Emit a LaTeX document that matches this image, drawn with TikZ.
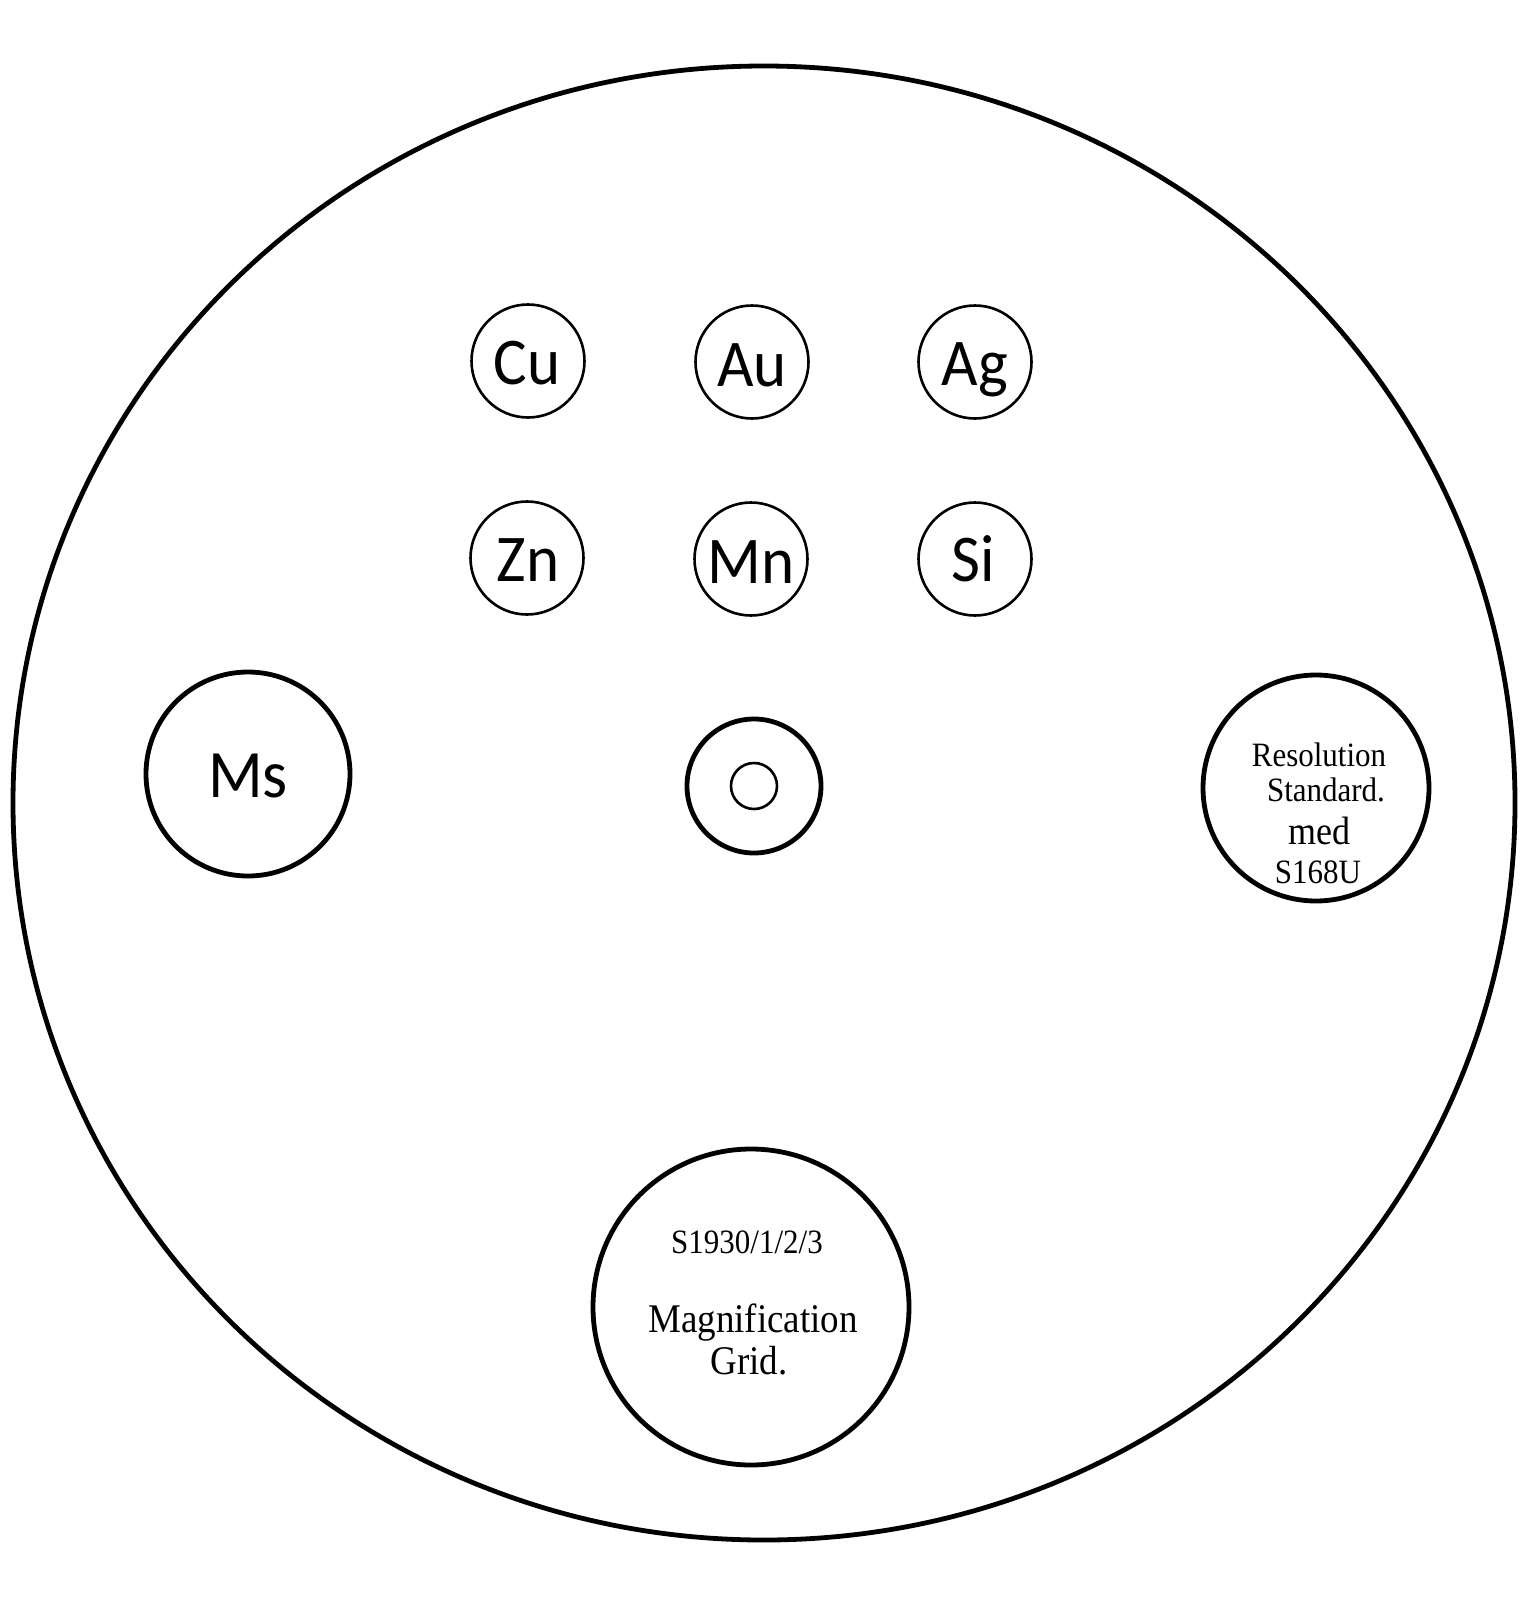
\documentclass[tikz,border=0pt]{standalone}
\usepackage{fontspec}
\setmainfont{Liberation Serif}
\newfontfamily\calib{Carlito}
\begin{document}
\begin{tikzpicture}[x=1pt,y=-1pt,
  thin ring/.style={draw, circle, line width=2.6pt, inner sep=0pt},
  thick ring/.style={draw, circle, line width=4.8pt, inner sep=0pt},
  elem/.style={font=\calib\fontsize{63}{63}\selectfont, anchor=base, inner sep=0pt, yscale=1.06},
  serif lbl/.style={font=\fontsize{31}{31}\selectfont, anchor=base, inner sep=0pt, yscale=1.1}]
\useasboundingbox (0,0) rectangle (1528,1598);
\fill[white] (0,0) rectangle (1528,1598);
% outer disc
\draw[line width=4.8pt] (764,803) ellipse [x radius=751, y radius=737];
% element circles
\node[thin ring, minimum size=113pt] (cu) at (528,361) {};
\node[thin ring, minimum size=113pt] (au) at (752,362) {};
\node[thin ring, minimum size=113pt] (ag) at (975,362) {};
\node[thin ring, minimum size=113pt] (zn) at (527,558) {};
\node[thin ring, minimum size=113pt] (mn) at (751,559) {};
\node[thin ring, minimum size=113pt] (si) at (975,559) {};
\node[elem] (tcu) at (527,384) {Cu};
\node[elem] (tau) at (752,386) {Au};
\node[elem] (tag) at (975,385) {Ag};
\node[elem] (tzn) at (528,581) {Zn};
\node[elem] (tmn) at (751,583) {Mn};
\node[elem] (tsi) at (973,581) {Si};
% Ms
\node[thick ring, minimum size=204pt] (ms) at (248,774) {};
\node[elem, font=\calib\fontsize{64}{64}\selectfont] (tms) at (248,797) {Ms};
% centre ring
\node[thick ring, minimum size=134pt] (ctr) at (754,786) {};
\node[thin ring, minimum size=46pt] (ctrin) at (ctr.center) {};
% resolution standard
\node[thick ring, minimum size=226pt] (res) at (1316,788) {};
\node[serif lbl] (r1) at (1319,766) {Resolution};
\node[serif lbl] (r2) at (1326,801) {Standard.};
\node[serif lbl, font=\fontsize{36}{36}\selectfont] (r3) at (1319,844) {med};
\node[serif lbl] (r4) at (1318,883) {S168U};
% magnification grid
\node[thick ring, minimum size=316pt] (mag) at (751,1307) {};
\node[serif lbl] (m1) at (747,1253) {S1930/1/2/3};
\node[serif lbl, font=\fontsize{37}{37}\selectfont] (m2) at (753,1332) {Magnification};
\node[serif lbl, font=\fontsize{37}{37}\selectfont] (m3) at (749,1374) {Grid.};
\end{tikzpicture}
\end{document}
